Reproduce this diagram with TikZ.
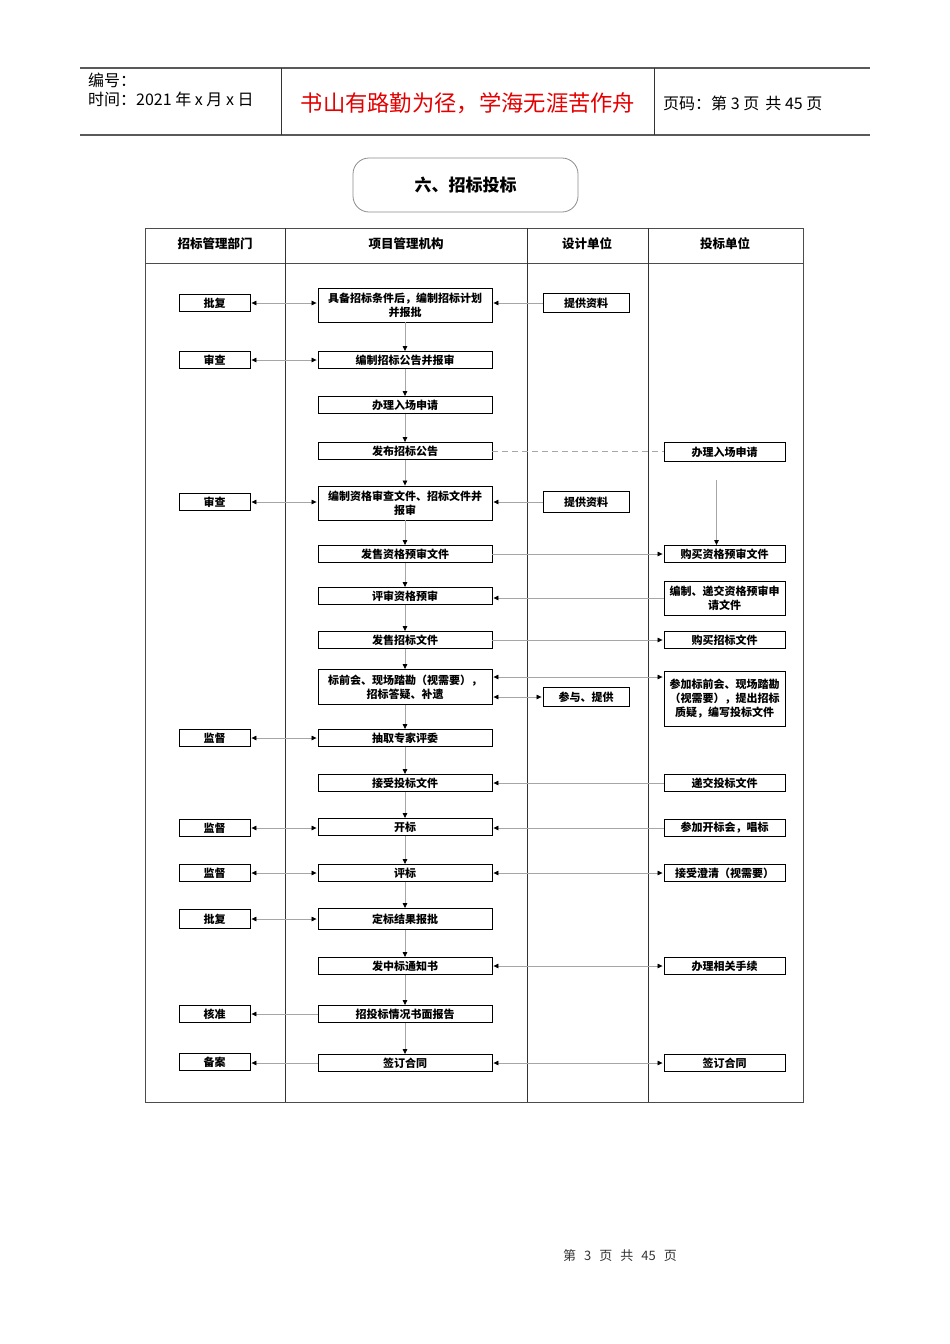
\documentclass[tikz,border=0pt]{standalone}
\usepackage{fontspec}
\newfontfamily\cjk{Noto Sans CJK SC}
\usetikzlibrary{arrows.meta,calc}
\definecolor{hdrred}{RGB}{228,0,0}
\begin{document}
\begin{tikzpicture}[x=1pt,y=-1pt,
  every node/.style={inner sep=1pt},
  bx/.style={draw=black, line width=0.9pt, minimum height=17pt, align=center,
    font=\cjk\bfseries\fontsize{11}{14}\selectfont},
  mbox/.style={bx, minimum width=174pt},
  lbox/.style={bx, minimum width=71pt},
  dbox/.style={bx, minimum width=86pt, minimum height=19pt},
  bbox/.style={bx, minimum width=121pt},
  conn/.style={draw=black!35, line width=0.7pt},
  tip/.tip={Triangle[length=5pt,width=4.5pt,color=black]},
  ar/.style={conn, -tip, shorten >=1pt},
  dar/.style={conn, tip-tip, shorten >=1pt, shorten <=1pt},
  hdr/.style={font=\cjk\bfseries\fontsize{12.5}{14}\selectfont}
]
\useasboundingbox (0,0) rectangle (950,1344);

% page header
\draw[black!65, line width=1.4pt] (80,68) -- (870,68);
\draw[black!65, line width=1.4pt] (80,135) -- (870,135);
\draw[black!80, line width=0.9pt] (281,68) -- (281,135);
\draw[black!80, line width=0.9pt] (654,68) -- (654,135);
\node[anchor=west, font=\cjk\fontsize{16}{18}\selectfont] (hnum) at (87,80) {编号：};
\node[anchor=west, font=\cjk\fontsize{16}{18}\selectfont] (htime) at (87,99) {时间：2021 年 x 月 x 日};
\node[font=\cjk\fontsize{22.3}{25}\selectfont, text=hdrred] (motto) at (468,103) {书山有路勤为径，学海无涯苦作舟};
\node[anchor=west, font=\cjk\fontsize{16}{18}\selectfont] (hpage) at (662,103) {页码：第 3 页\, 共 45 页};

% title
\node[draw=black!45, line width=0.8pt, rounded corners=16pt, minimum width=225pt, minimum height=54pt,
  font=\cjk\bfseries\fontsize{17}{19}\selectfont] (title) at (465.5,185) {六、招标投标};

% table
\draw[black!70, line width=0.8pt] (145,228) rectangle (803,1102);
\draw[black!70, line width=0.8pt] (145,263) -- (803,263);
\draw[black!80, line width=0.8pt] (285,228) -- (285,1102);
\draw[black!80, line width=0.8pt] (527,228) -- (527,1102);
\draw[black!80, line width=0.8pt] (648,228) -- (648,1102);
\node[hdr] (c1) at (215,244) {招标管理部门};
\node[hdr] (c2) at (406,244) {项目管理机构};
\node[hdr] (c3) at (587,244) {设计单位};
\node[hdr] (c4) at (725,244) {投标单位};

% middle column
\node[mbox, minimum height=34pt] (m1) at (405,305) {具备招标条件后，编制招标计划\\并报批};
\node[mbox] (m2) at (405,360) {编制招标公告并报审};
\node[mbox] (m3) at (405,405) {办理入场申请};
\node[mbox] (m4) at (405,451) {发布招标公告};
\node[mbox, minimum height=34pt] (m5) at (405,503) {编制资格审查文件、招标文件并\\报审};
\node[mbox] (m6) at (405,554) {发售资格预审文件};
\node[mbox] (m7) at (405,596) {评审资格预审};
\node[mbox] (m8) at (405,640) {发售招标文件};
\node[mbox, minimum height=35pt] (m9) at (405,687) {标前会、现场踏勘（视需要），\\招标答疑、补遗};
\node[mbox] (m10) at (405,738) {抽取专家评委};
\node[mbox] (m11) at (405,783) {接受投标文件};
\node[mbox] (m12) at (405,827) {开标};
\node[mbox] (m13) at (405,873) {评标};
\node[mbox, minimum height=21pt] (m14) at (405,919) {定标结果报批};
\node[mbox] (m15) at (405,966) {发中标通知书};
\node[mbox] (m16) at (405,1014) {招投标情况书面报告};
\node[mbox] (m17) at (405,1063) {签订合同};

% left column
\node[lbox] (l1) at (214.5,303) {批复};
\node[lbox] (l2) at (214.5,360) {审查};
\node[lbox] (l5) at (214.5,502) {审查};
\node[lbox] (l10) at (214.5,738) {监督};
\node[lbox] (l12) at (214.5,828) {监督};
\node[lbox] (l13) at (214.5,873) {监督};
\node[lbox, minimum height=19pt] (l14) at (214.5,919) {批复};
\node[lbox] (l16) at (214.5,1014) {核准};
\node[lbox] (l17) at (214.5,1062) {备案};

% design column
\node[dbox] (d1) at (586,303) {提供资料};
\node[dbox, minimum height=21pt] (d5) at (586,502) {提供资料};
\node[dbox] (d9) at (586,697) {参与、提供};

% bidder column
\node[bbox, minimum height=19pt] (b4) at (724.5,452) {办理入场申请};
\node[bbox] (b6) at (724.5,554) {购买资格预审文件};
\node[bbox, minimum height=34pt] (b7) at (724.5,598) {编制、递交资格预审申\\请文件};
\node[bbox] (b8) at (724.5,640) {购买招标文件};
\node[bbox, minimum height=55pt] (b9) at (724.5,698.5) {参加标前会、现场踏勘\\（视需要），提出招标\\质疑，编写投标文件};
\node[bbox] (b11) at (724.5,783) {递交投标文件};
\node[bbox] (b12) at (724.5,828) {参加开标会，唱标};
\node[bbox] (b13) at (724.5,873) {接受澄清（视需要）};
\node[bbox] (b15) at (724.5,966) {办理相关手续};
\node[bbox] (b17) at (724.5,1063) {签订合同};

% vertical flow in the middle column
\foreach \a/\b in {m1/m2,m2/m3,m3/m4,m4/m5,m5/m6,m6/m7,m7/m8,m8/m9,m9/m10,m10/m11,m11/m12,m12/m13,m13/m14,m14/m15,m15/m16,m16/m17}
  \draw[ar, shorten >=0pt] (\a.south) -- (\b.north);

% left column links
\foreach \l/\m in {l1/m1,l2/m2,l5/m5,l10/m10,l12/m12,l13/m13,l14/m14}
  \draw[dar] (\l.east) -- (\l.east -| \m.west);
\draw[ar] (m16.west) -- (m16.west -| l16.east);
\draw[ar] (m17.west) -- (m17.west -| l17.east);

% design column links
\draw[ar] (d1.west) -- (d1.west -| m1.east);
\draw[ar] (d5.west) -- (d5.west -| m5.east);
\draw[dar] (d9.west -| m9.east) -- (d9.west);

% bidder column links
\draw[conn, dashed, dash pattern=on 6pt off 4pt] (m4.east) -- (m4.east -| b4.west);
\coordinate (b4s) at ([xshift=-8pt]b4.south);
\draw[ar, shorten <=18pt, shorten >=0pt] (b4s) -- (b4s |- b6.north);
\draw[ar] (m6.east) -- (m6.east -| b6.west);
\draw[ar] (b7.west) -- (b7.west -| m7.east);
\draw[ar] (m8.east) -- (m8.east -| b8.west);
\coordinate (m9a) at ([yshift=10pt]m9.east);
\draw[dar] (m9a) -- (m9a -| b9.west);
\draw[ar] (b11.west) -- (b11.west -| m11.east);
\draw[ar] (b12.west) -- (b12.west -| m12.east);
\draw[dar] (m13.east) -- (m13.east -| b13.west);
\draw[dar] (m15.east) -- (m15.east -| b15.west);
\draw[dar] (m17.east) -- (m17.east -| b17.west);

% footer
\node[font=\cjk\fontsize{13}{15}\selectfont, text=black!80] (foot) at (620,1256)
  {第\hspace{8pt}3\hspace{8pt}页\hspace{8pt}共\hspace{8pt}45\hspace{8pt}页};
\end{tikzpicture}
\end{document}
